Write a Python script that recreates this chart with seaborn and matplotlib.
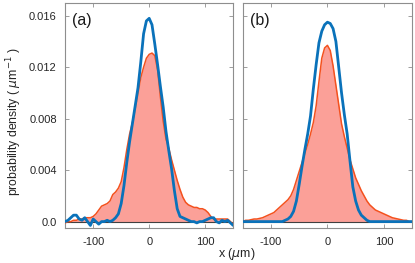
import numpy as np
import matplotlib
matplotlib.use("Agg")
import matplotlib.pyplot as plt
import seaborn as sns

# x positions (um), shared by every curve
x_um = list(range(-150, 151, 5))

# panel (a): measured (orange, filled) and model (blue)
meas_a = [-0.0001, 0.0000, 0.0000, 0.0001, 0.0001, 0.0002, 0.0002, 0.0003, 0.0003, 0.0003,
          0.0004, 0.0006, 0.0009, 0.0012, 0.0013, 0.0014, 0.0016, 0.0021, 0.0023, 0.0026,
          0.0031, 0.0042, 0.0056, 0.0068, 0.0077, 0.0088, 0.0100, 0.0112, 0.0120, 0.0127,
          0.0130, 0.0131, 0.0129, 0.0118, 0.0097, 0.0078, 0.0064, 0.0057, 0.0048, 0.0040,
          0.0032, 0.0025, 0.0019, 0.0015, 0.0013, 0.0012, 0.0011, 0.0011, 0.0010, 0.0010,
          0.0009, 0.0007, 0.0004, 0.0002, 0.0002, 0.0002, 0.0002, 0.0002, 0.0002, 0.0000,
          -0.0002]
model_a = [0.0000, 0.0001, 0.0003, 0.0005, 0.0005, 0.0002, 0.0001, 0.0003, 0.0000, -0.0003,
           0.0002, 0.0000, -0.0002, 0.0000, 0.0000, 0.0001, 0.0000, 0.0001, 0.0003, 0.0006,
           0.0014, 0.0028, 0.0046, 0.0062, 0.0076, 0.0090, 0.0104, 0.0124, 0.0146, 0.0156,
           0.0158, 0.0153, 0.0138, 0.0122, 0.0105, 0.0089, 0.0070, 0.0055, 0.0041, 0.0024,
           0.0010, 0.0004, 0.0003, 0.0002, 0.0001, 0.0000, 0.0000, -0.0001, 0.0000, 0.0000,
           0.0001, 0.0002, 0.0003, 0.0003, 0.0000, -0.0001, 0.0001, 0.0000, 0.0001, -0.0001,
           -0.0003]

# panel (b)
meas_b = [0.0000, 0.0001, 0.0001, 0.00015, 0.0002, 0.0002, 0.00025, 0.0003, 0.0004, 0.0005,
          0.0006, 0.0007, 0.0009, 0.0011, 0.0013, 0.0015, 0.0017, 0.0020, 0.0025, 0.0032,
          0.0039, 0.0046, 0.0053, 0.0060, 0.0068, 0.0077, 0.0090, 0.0109, 0.0127, 0.0135,
          0.0137, 0.0133, 0.0121, 0.0106, 0.0091, 0.0076, 0.0066, 0.0057, 0.0048, 0.0041,
          0.0034, 0.0029, 0.0024, 0.0020, 0.0016, 0.0013, 0.0011, 0.0009, 0.0008, 0.0007,
          0.0006, 0.0005, 0.0004, 0.0003, 0.00025, 0.0002, 0.00015, 0.0001, 0.0001, 0.0000,
          0.0000]
model_b = [0.0000, 0.0000, 0.0000, 0.0000, 0.0000, 0.0000, 0.0000, 0.0000, 0.0000, 0.0000,
           0.0000, 0.0000, 0.0000, 0.0000, 0.0000, 0.0001, 0.0002, 0.0004, 0.0008, 0.0016,
           0.0029, 0.0043, 0.0056, 0.0068, 0.0082, 0.0103, 0.0122, 0.0139, 0.0148, 0.0153,
           0.0155, 0.0154, 0.0150, 0.0140, 0.0120, 0.0100, 0.0083, 0.0068, 0.0047, 0.0027,
           0.0016, 0.0009, 0.0005, 0.0003, 0.0001, 0.0000, 0.0000, 0.0000, 0.0000, 0.0000,
           0.0000, 0.0000, 0.0000, 0.0000, 0.0000, 0.0000, 0.0000, 0.0000, 0.0000, 0.0000,
           0.0000]

panel_labels = ["(a)", "(b)"]
y_ticks = [0.0, 0.004, 0.008, 0.012, 0.016]
y_ticklabels = ["0.0", "0.004", "0.008", "0.012", "0.016"]
x_ticks = [-100, 0, 100]
x_ticklabels = ["-100", "0", "100"]

sns.set_theme(style="ticks")
plt.rcParams['font.family'] = ['Liberation Sans', 'DejaVu Sans']
plt.rcParams['mathtext.fontset'] = 'dejavusans'

fill_col = "#FBA098"
meas_col = "#F4511E"
model_col = "#0A72BA"
edge_col = "#8E8E8E"

fig = plt.figure(figsize=(4.15, 2.63), dpi=100)
ax_a = fig.add_axes([0.157, 0.133, 0.405, 0.856])
ax_b = fig.add_axes([0.585, 0.133, 0.408, 0.856])

for ax, meas, model, lab in [(ax_a, meas_a, model_a, panel_labels[0]),
                             (ax_b, meas_b, model_b, panel_labels[1])]:
    ax.fill_between(x_um, 0, meas, color=fill_col, linewidth=0, zorder=1)
    ax.axhline(0, color="#404040", linewidth=0.8, zorder=2)
    sns.lineplot(x=x_um, y=meas, ax=ax, color=meas_col, linewidth=1.1, zorder=3)
    sns.lineplot(x=x_um, y=model, ax=ax, color=model_col, linewidth=2.0, zorder=4)

    ax.set_xlim(-150, 150)
    ax.set_ylim(-0.0005, 0.017)
    ax.set_xticks(x_ticks)
    ax.set_xticklabels(x_ticklabels)
    ax.set_yticks(y_ticks)
    ax.tick_params(direction="in", length=3, width=0.6, color=edge_col,
                   top=True, right=True, labelsize=8, labelcolor="#262626")
    ax.tick_params(axis="x", pad=6.5)
    ax.tick_params(axis="y", pad=6)
    for sp in ax.spines.values():
        sp.set_visible(True)
        sp.set_color(edge_col)
        sp.set_linewidth(0.8)
    ax.set_xlabel("")
    ax.set_ylabel("")
    ax.text(0.04, 0.92, lab, transform=ax.transAxes, fontsize=11.5,
            ha="left", va="center", color="#1a1a1a")

ax_a.set_yticklabels(y_ticklabels)
ax_b.set_yticklabels([])

fig.text(0.035, 0.536, r"probability density ( $\mu$m$^{-1}$ )", rotation=90,
         ha="center", va="center", fontsize=8.8, color="#262626")
fig.text(0.571, 0.036, r"x ($\mu$m)", ha="center", va="center",
         fontsize=9, color="#262626")

fig.savefig("out.png", dpi=100)
